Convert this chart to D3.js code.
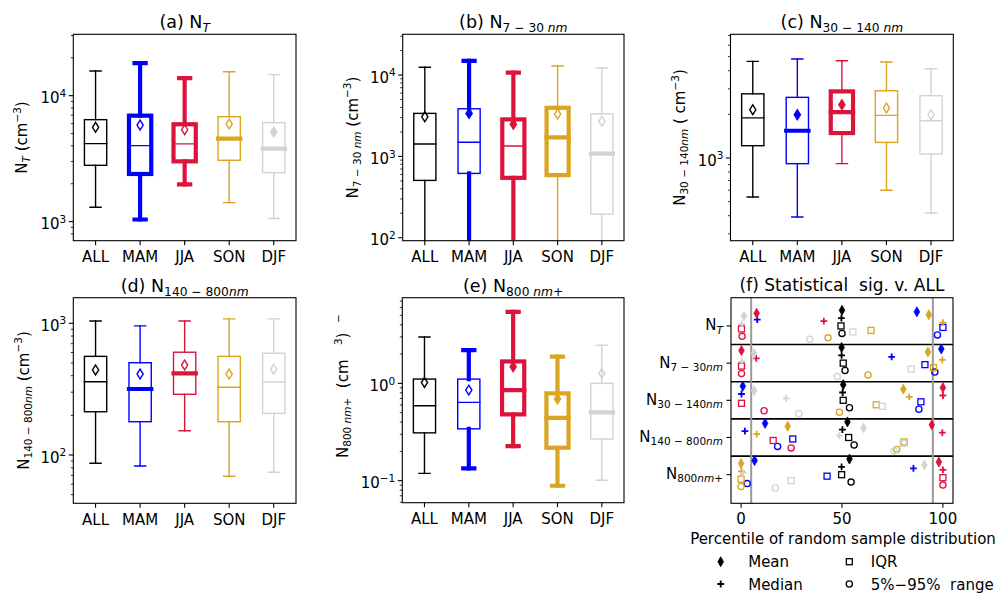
<!DOCTYPE html>
<html><head><meta charset="utf-8">
<script src="https://cdn.jsdelivr.net/npm/d3@7"></script>
<style>body{margin:0;background:#fff} svg{display:block} text{font-family:"DejaVu Sans",sans-serif;fill:#000;white-space:pre}</style>
</head><body>
<script>
// ---------- DATA ----------
const seasons = ["ALL", "MAM", "JJA", "SON", "DJF"];
const seasonColors = ["#000000", "#0000ff", "#dc143c", "#daa520", "#d3d3d3"];
const variables = ["N_T", "N_7-30nm", "N_30-140nm", "N_140-800nm", "N_800nm+"];

// box statistics, rows = variables (N_T, N7-30, N30-140, N140-800, N800+), columns = seasons
const whiskerLow = [
  [1300, 1040, 1980, 1415, 1060],
  [40, 35, 30, 45, 40],
  [538, 392, 914, 599, 418],
  [86.5, 82.5, 153, 69, 74],
  [0.119, 0.134, 0.227, 0.0887, 0.101]
];
const quart1 = [
  [2800, 2390, 3010, 3070, 2450],
  [507, 618, 545, 589, 195],
  [1216, 914, 1486, 1281, 1066],
  [213, 179, 289, 179, 207],
  [0.31, 0.341, 0.48, 0.218, 0.268]
];
const medianVal = [
  [4160, 4010, 4140, 4560, 3800],
  [1420, 1490, 1340, 1710, 1080],
  [1890, 1542, 2075, 1967, 1808],
  [360, 317, 417, 327, 358],
  [0.589, 0.638, 0.853, 0.443, 0.503]
];
const quart3 = [
  [6450, 6940, 5930, 6810, 6110],
  [3380, 3850, 2850, 3960, 3340],
  [2770, 2620, 2880, 2910, 2690],
  [561, 502, 603, 561, 592],
  [1.107, 1.107, 1.68, 0.789, 1.0]
];
const whiskerHigh = [
  [15700, 18100, 13800, 15500, 14700],
  [12500, 14900, 10700, 12900, 12200],
  [4640, 4820, 4690, 4590, 4130],
  [1040, 955, 1040, 1080, 1080],
  [2.99, 2.2, 5.44, 1.88, 2.46]
];
const meanVal = [
  [5610, 5850, 5370, 5960, 5150],
  [3070, 3380, 2480, 3310, 2700],
  [2153, 1990, 2330, 2210, 1990],
  [442, 412, 482, 412, 448],
  [1.02, 0.853, 1.48, 0.69, 1.27]
];

// percentile of random-sample distribution (panel f), rows = variables, columns = seasons
const pctMean = [
  [50.0, 87.1, 7.7, 93.0, 1.4],
  [49.8, 99.2, 0.2, 92.6, 6.4],
  [50.6, 0.85, 100, 80.4, 6.4],
  [52.7, 11.9, 94.5, 23.1, 60.7],
  [53.7, 6.7, 98.0, 0.0, 90.8]
];
const pctMedian = [
  [49.7, 8.0, 41.0, 100, 0.3],
  [49.8, 74.6, 7.5, 99.7, 0.3],
  [50.3, 0.2, 100, 83.3, 22.3],
  [50.2, 1.9, 99.7, 7.7, 48.7],
  [49.8, 85.4, 100, 0.2, 1.0]
];
const pctIQR = [
  [49.5, 100, 0.2, 64.4, 55.4],
  [50.6, 91.1, 0.2, 95.3, 84.3],
  [50.6, 89.1, 0.2, 67.0, 69.9],
  [53.3, 25.6, 15.9, 80.8, 80.3],
  [49.8, 42.6, 100, 0.0, 24.8]
];
const pctRange = [
  [50.0, 97.3, 0.5, 43.1, 34.0],
  [51.5, 96.0, 0.2, 62.9, 47.6],
  [53.7, 88.1, 11.4, 48.7, 28.6],
  [56.0, 18.1, 24.8, 77.1, 75.8],
  [54.5, 3.0, 100, 0.0, 16.9]
];
const sigLow = 5, sigHigh = 95;
const pctTicks = [0, 50, 100];

// ---------- TEXT ----------
const titles = [
  [{t:"(a) N"},{t:"T",sub:1,it:1}],
  [{t:"(b) N"},{t:"7 − 30 ",sub:1},{t:"nm",sub:1,it:1}],
  [{t:"(c) N"},{t:"30 − 140 ",sub:1},{t:"nm",sub:1,it:1}],
  [{t:"(d) N"},{t:"140 − 800",sub:1},{t:"nm",sub:1,it:1}],
  [{t:"(e) N"},{t:"800 ",sub:1},{t:"nm",sub:1,it:1},{t:"+",sub:1}]
];
const ylabels = [
  [{t:"N"},{t:"T",sub:1,it:1},{t:" (cm"},{t:"−3",sup:1},{t:")"}],
  [{t:"N"},{t:"7 − 30 ",sub:1},{t:"nm",sub:1,it:1},{t:" (cm"},{t:"−3",sup:1},{t:")"}],
  [{t:"N"},{t:"30 − 140",sub:1},{t:"nm",sub:1,it:1},{t:" ( cm"},{t:"−3",sup:1},{t:")"}],
  [{t:"N"},{t:"140 − 800",sub:1},{t:"nm",sub:1,it:1},{t:" (cm"},{t:"−3",sup:1},{t:")"}],
  [{t:"N"},{t:"800 ",sub:1},{t:"nm",sub:1,it:1},{t:"+",sub:1},{t:"  (cm   "},{t:"3",sup:1},{t:")  "},{t:"−",sup:1}]
];
const rowLabels = [
  [{t:"N"},{t:"T",sub:1,it:1}],
  [{t:"N"},{t:"7 − 30",sub:1},{t:"nm",sub:1,it:1}],
  [{t:"N"},{t:"30 − 140",sub:1},{t:"nm",sub:1,it:1}],
  [{t:"N"},{t:"140 − 800",sub:1},{t:"nm",sub:1,it:1}],
  [{t:"N"},{t:"800",sub:1},{t:"nm",sub:1,it:1},{t:"+",sub:1}]
];

// ---------- LAYOUT ----------
const layout = [
  {l:73.3, r:296, t:34.3, b:240.7, dom:[706, 30700], yl:27},
  {l:402.7, r:624, t:34.3, b:240.7, dom:[92, 31700], yl:357.5},
  {l:730.5, r:953.3, t:34.3, b:240.7, dom:[269, 7130], yl:685},
  {l:73.3, r:296, t:297.7, b:503.3, dom:[43, 1564], yl:28.5},
  {l:402.3, r:624, t:297.7, b:502.7, dom:[0.0594, 7.59], yl:348, ylAnchorY:458}
];
const FS = 15, TFS = 17.5, THIN = 1.4, THICK = 4.2;

const svg = d3.select("body").append("svg").attr("width", 998).attr("height", 593);

function rich(sel, parts, fs) {
  let shift = 0;
  parts.forEach(p => {
    const target = p.sub ? fs * 0.22 : p.sup ? -fs * 0.42 : 0;
    const ts = sel.append("tspan").text(p.t);
    if (target - shift !== 0) ts.attr("dy", target - shift);
    if (p.sub || p.sup) ts.attr("font-size", fs * 0.7);
    if (p.it) ts.attr("font-style", "italic");
    shift = target;
  });
  return sel;
}
function diamondPath(w, h) { return `M0,${-h}L${w},0L0,${h}L${-w},0Z`; }
const isSig = v => v < sigLow || v > sigHigh;

// ---------- BOX PANELS ----------
layout.forEach((L, p) => {
  const g = svg.append("g");
  const x = d3.scaleLinear([0.5, 5.5], [L.l, L.r]);
  const y = d3.scaleLog(L.dom, [L.b, L.t]);
  const clipId = "clip" + p;
  svg.append("clipPath").attr("id", clipId).append("rect")
    .attr("x", L.l).attr("y", L.t).attr("width", L.r - L.l).attr("height", L.b - L.t);

  // y ticks (log)
  const e0 = Math.floor(Math.log10(L.dom[0])), e1 = Math.ceil(Math.log10(L.dom[1]));
  for (let e = e0; e <= e1; e++) {
    for (let k = 1; k < 10; k++) {
      const v = k * Math.pow(10, e);
      if (v < L.dom[0] || v > L.dom[1]) continue;
      const yy = y(v);
      g.append("line").attr("x1", L.l).attr("x2", L.l - (k === 1 ? 4.5 : 2.5))
        .attr("y1", yy).attr("y2", yy).attr("stroke", "#000").attr("stroke-width", k === 1 ? 1.1 : 0.8);
      if (k === 1) {
        const tx = g.append("text").attr("x", L.l - 7).attr("y", yy + 7.5)
          .attr("text-anchor", "end").attr("font-size", FS);
        rich(tx, [{t:"10"},{t:(e < 0 ? "−" + (-e) : "" + e), sup:1}], FS);
      }
    }
  }
  // x ticks
  seasons.forEach((s, i) => {
    const xx = x(i + 1);
    g.append("line").attr("x1", xx).attr("x2", xx).attr("y1", L.b).attr("y2", L.b + 4.5)
      .attr("stroke", "#000").attr("stroke-width", 1.1);
    g.append("text").attr("x", xx).attr("y", L.b + 21.5).attr("text-anchor", "middle")
      .attr("font-size", FS).text(s);
  });

  // boxes
  const bg = g.append("g").attr("clip-path", `url(#${clipId})`);
  const hw = (x(1.25) - x(1)), cw = (x(1.125) - x(1));
  seasons.forEach((s, i) => {
    const col = seasonColors[i];
    const xx = x(i + 1);
    const wW = isSig(pctRange[p][i]) ? THICK : THIN;
    const bW = isSig(pctIQR[p][i]) ? THICK : THIN;
    const mW = isSig(pctMedian[p][i]) ? THICK : THIN;
    const meanFilled = isSig(pctMean[p][i]);
    const lo = y(whiskerLow[p][i]), q1 = y(quart1[p][i]), md = y(medianVal[p][i]),
          q3 = y(quart3[p][i]), hi = y(whiskerHigh[p][i]);
    const line = (x1, y1, x2, y2, w) => bg.append("line").attr("x1", x1).attr("y1", y1)
      .attr("x2", x2).attr("y2", y2).attr("stroke", col).attr("stroke-width", w)
      .attr("stroke-linecap", "square");
    line(xx, q1, xx, lo, wW);
    line(xx, q3, xx, hi, wW);
    line(xx - cw, lo, xx + cw, lo, wW);
    line(xx - cw, hi, xx + cw, hi, wW);
    bg.append("rect").attr("x", xx - hw).attr("y", q3).attr("width", 2 * hw).attr("height", q1 - q3)
      .attr("fill", "none").attr("stroke", col).attr("stroke-width", bW);
    line(xx - hw, md, xx + hw, md, mW);
    bg.append("path").attr("d", diamondPath(3.1, 4.9))
      .attr("transform", `translate(${xx},${y(meanVal[p][i])})`)
      .attr("fill", meanFilled ? col : "none").attr("stroke", col).attr("stroke-width", 1.4);
  });

  // frame
  g.append("rect").attr("x", L.l).attr("y", L.t).attr("width", L.r - L.l).attr("height", L.b - L.t)
    .attr("fill", "none").attr("stroke", "#000").attr("stroke-width", 1.1);
  // title
  rich(g.append("text").attr("x", (L.l + L.r) / 2).attr("y", L.t - 6).attr("text-anchor", "middle")
    .attr("font-size", TFS), titles[p], TFS);
  // y label
  const ly = L.ylAnchorY !== undefined ? L.ylAnchorY : (L.t + L.b) / 2;
  rich(g.append("text").attr("transform", `translate(${L.yl},${ly}) rotate(-90)`)
    .attr("text-anchor", L.ylAnchorY !== undefined ? "start" : "middle").attr("font-size", FS), ylabels[p], FS);
});

// ---------- PANEL F ----------
(function () {
  const F = {l:731, r:953, t:297.7, b:503.3};
  const g = svg.append("g");
  const x = d3.scaleLinear([-5, 105], [F.l, F.r]);
  const y = d3.scaleLinear([-0.76, 4.77], [F.t, F.b]);
  const measureOffset = [-0.42, -0.21, 0, 0.2];
  const seasonStep = 0.04;

  // separators
  [0.5, 1.5, 2.5, 3.5].forEach(v => g.append("line").attr("x1", F.l).attr("x2", F.r)
    .attr("y1", y(v)).attr("y2", y(v)).attr("stroke", "#000").attr("stroke-width", 1.6));
  [sigLow, sigHigh].forEach(v => g.append("line").attr("x1", x(v)).attr("x2", x(v))
    .attr("y1", F.t).attr("y2", F.b).attr("stroke", "#9a9a9a").attr("stroke-width", 2));

  const drawMarker = (sel, m, cx, cy, col) => {
    if (m === 0) sel.append("path").attr("d", diamondPath(2.8, 5)).attr("transform", `translate(${cx},${cy})`)
      .attr("fill", col).attr("stroke", col).attr("stroke-width", 0.8);
    else if (m === 1) sel.append("path").attr("d", "M-3.4,0H3.4M0,-3.4V3.4").attr("transform", `translate(${cx},${cy})`)
      .attr("stroke", col).attr("stroke-width", 1.8).attr("fill", "none");
    else if (m === 2) sel.append("rect").attr("x", cx - 3).attr("y", cy - 3).attr("width", 6).attr("height", 6)
      .attr("fill", "none").attr("stroke", col).attr("stroke-width", 1.3);
    else sel.append("circle").attr("cx", cx).attr("cy", cy).attr("r", 3.1)
      .attr("fill", "none").attr("stroke", col).attr("stroke-width", 1.3);
  };
  const pctSets = [pctMean, pctMedian, pctIQR, pctRange];
  variables.forEach((v, r) => {
    seasons.forEach((s, i) => {
      pctSets.forEach((set, m) => {
        drawMarker(g, m, x(set[r][i]), y(r + measureOffset[m] + i * seasonStep), seasonColors[i]);
      });
    });
  });

  g.append("rect").attr("x", F.l).attr("y", F.t).attr("width", F.r - F.l).attr("height", F.b - F.t)
    .attr("fill", "none").attr("stroke", "#000").attr("stroke-width", 1.1);

  // y ticks / row labels
  rowLabels.forEach((lab, r) => {
    const yy = y(r);
    g.append("line").attr("x1", F.l).attr("x2", F.l - 4.5).attr("y1", yy).attr("y2", yy)
      .attr("stroke", "#000").attr("stroke-width", 1.1);
    rich(g.append("text").attr("x", F.l - 8).attr("y", yy + 4.5).attr("text-anchor", "end")
      .attr("font-size", FS), lab, FS);
  });
  // x ticks
  pctTicks.forEach(t => {
    g.append("line").attr("x1", x(t)).attr("x2", x(t)).attr("y1", F.b).attr("y2", F.b + 4.5)
      .attr("stroke", "#000").attr("stroke-width", 1.1);
    g.append("text").attr("x", x(t)).attr("y", F.b + 21).attr("text-anchor", "middle")
      .attr("font-size", FS).text(t);
  });
  g.append("text").attr("x", 843).attr("y", 543.5).attr("text-anchor", "middle").attr("font-size", FS)
    .text("Percentile of random sample distribution");
  g.append("text").attr("x", (F.l + F.r) / 2).attr("y", 291).attr("text-anchor", "middle").attr("font-size", 17)
    .text("(f) Statistical  sig. v. ALL");

  // legend
  const legend = [
    {m:0, label:"Mean", x:720.7, y:561.7},
    {m:2, label:"IQR", x:849.3, y:561.7},
    {m:1, label:"Median", x:720.7, y:584},
    {m:3, label:"5%−95%  range", x:849.3, y:584}
  ];
  legend.forEach(d => {
    drawMarker(g, d.m, d.x, d.y, "#000");
    g.append("text").attr("x", d.x + (d.m === 0 || d.m === 1 ? 27.5 : 21.5)).attr("y", d.y + 5.5)
      .attr("font-size", FS).text(d.label);
  });
})();
</script>
</body></html>
